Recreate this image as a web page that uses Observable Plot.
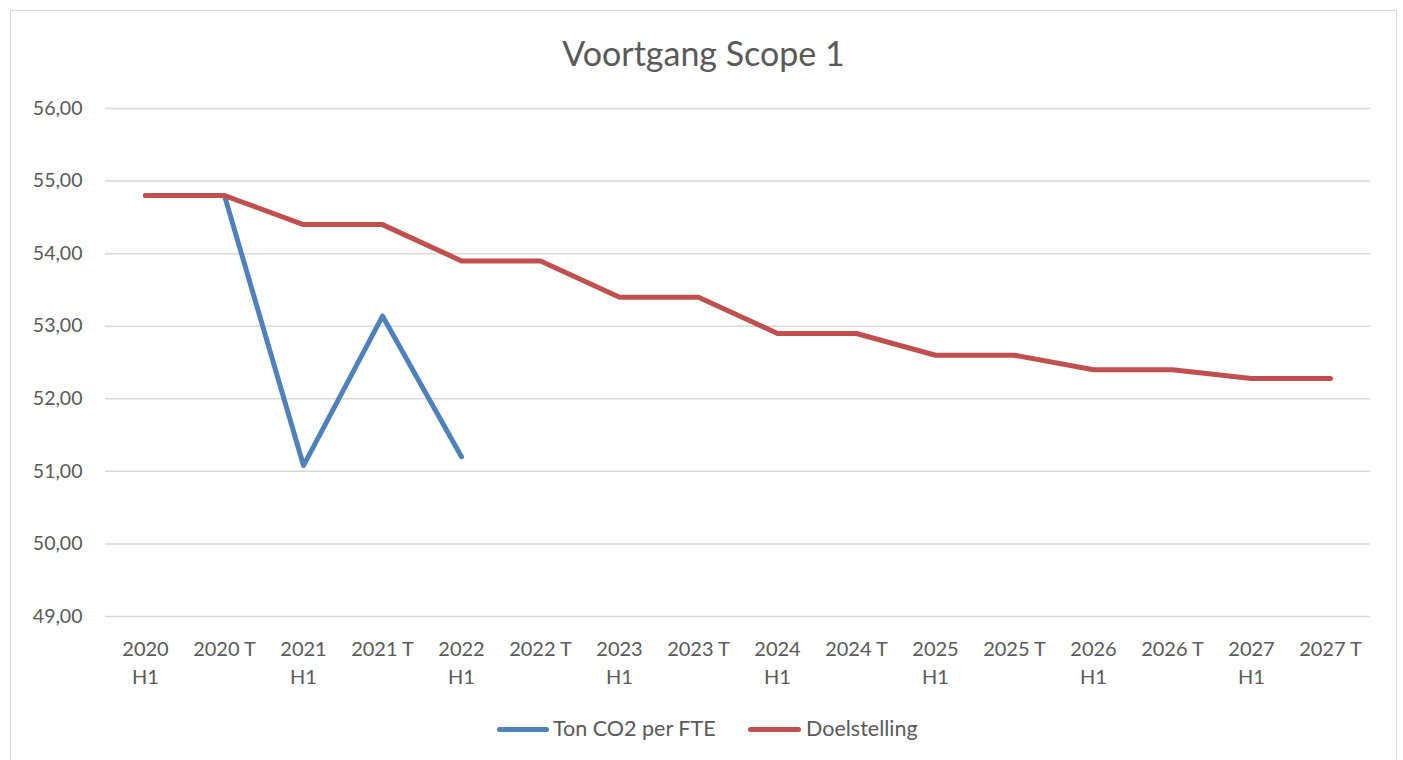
<!DOCTYPE html>
<html>
<head>
<meta charset="utf-8">
<script src="https://cdn.jsdelivr.net/npm/d3@7"></script>
<script src="https://cdn.jsdelivr.net/npm/@observablehq/plot@0.6"></script>
<style>
  html, body { margin: 0; padding: 0; background: #fff; overflow: hidden; }
  body { width: 1403px; height: 760px; position: relative; font-family: Lato, "Open Sans", sans-serif; color: #595959; }
  #frame { position: absolute; left: 10px; top: 10px; width: 1387px; height: 770px; border: 1.5px solid #d9d9d9; box-sizing: border-box; }
  #title { position: absolute; left: 10px; width: 1387px; top: 32px; text-align: center; font-size: 34px; line-height: 42px; color: #595959; }
  #chart { position: absolute; left: 10px; top: 80px; }
  .leg { position: absolute; top: 715px; font-size: 21.5px; color: #595959; line-height: 26px; }
  .sw { position: absolute; height: 5px; border-radius: 3px; top: 727px; }
</style>
</head>
<body>
<div id="frame"></div>
<div id="title">Voortgang Scope 1</div>
<div id="chart"></div>
<div class="sw" style="left:497px;width:52px;background:#4f81bd"></div>
<div class="leg" style="left:553px">Ton CO2 per FTE</div>
<div class="sw" style="left:748px;width:53px;background:#c0504d"></div>
<div class="leg" style="left:806px">Doelstelling</div>
<script>
const categories = ["2020 H1","2020 T","2021 H1","2021 T","2022 H1","2022 T","2023 H1","2023 T","2024 H1","2024 T","2025 H1","2025 T","2026 H1","2026 T","2027 H1","2027 T"];
const tickLabels = ["2020\nH1","2020 T","2021\nH1","2021 T","2022\nH1","2022 T","2023\nH1","2023 T","2024\nH1","2024 T","2025\nH1","2025 T","2026\nH1","2026 T","2027\nH1","2027 T"];
const actual = [54.8, 54.8, 51.08, 53.14, 51.2, null, null, null, null, null, null, null, null, null, null, null];
const target = [54.8, 54.8, 54.4, 54.4, 53.9, 53.9, 53.4, 53.4, 52.9, 52.9, 52.6, 52.6, 52.4, 52.4, 52.28, 52.28];
const yTicks = [49, 50, 51, 52, 53, 54, 55, 56];

const actualData = categories.map((c, i) => ({cat: c, v: actual[i]})).filter(d => d.v != null);
const targetData = categories.map((c, i) => ({cat: c, v: target[i]}));
const labelOf = Object.fromEntries(categories.map((c, i) => [c, tickLabels[i]]));

const chart = Plot.plot({
  width: 1387,
  height: 620,
  marginLeft: 95,
  marginRight: 27,
  marginTop: 28,
  marginBottom: 84,
  style: {fontFamily: "Lato, 'Open Sans', sans-serif", fontSize: "19.5px", color: "#595959", background: "transparent"},
  x: {type: "point", domain: categories, padding: 0.5},
  y: {domain: [49, 56]},
  marks: [
    Plot.gridY(yTicks, {stroke: "#d9d9d9", strokeOpacity: 1, strokeWidth: 1.5}),
    Plot.axisY(yTicks, {tickSize: 0, tickPadding: 23, tickFormat: d => d.toFixed(2).replace(".", ","), label: null, fill: "#595959"}),
    Plot.axisX({tickSize: 0, tickPadding: 19, tickFormat: d => labelOf[d], label: null, lineHeight: 1.42, fill: "#595959", fontSize: 20}),
    Plot.line(actualData, {x: "cat", y: "v", stroke: "#4f81bd", strokeWidth: 5, strokeLinecap: "round", strokeLinejoin: "round"}),
    Plot.line(targetData, {x: "cat", y: "v", stroke: "#c0504d", strokeWidth: 5, strokeLinecap: "round", strokeLinejoin: "round"})
  ]
});
document.getElementById("chart").appendChild(chart);
</script>
</body>
</html>
